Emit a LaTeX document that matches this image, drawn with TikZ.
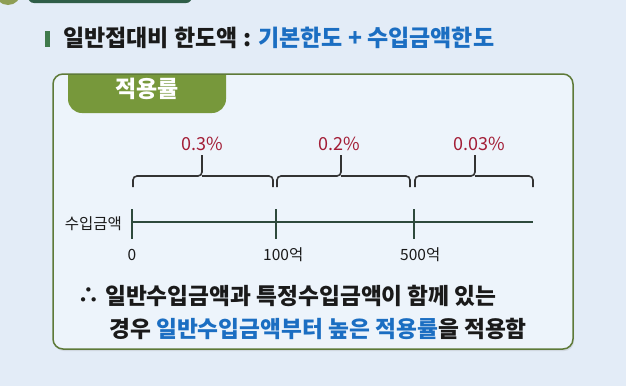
\documentclass[tikz,border=0pt]{standalone}
\usepackage{fontspec}
\setmainfont{Noto Sans CJK KR}
\usetikzlibrary{shadows}
\definecolor{bgcol}{HTML}{E3ECF7}
\definecolor{boxfill}{HTML}{EDF4FB}
\definecolor{boxline}{HTML}{5E7A38}
\definecolor{tabgreen}{HTML}{77983B}
\definecolor{barcol}{HTML}{3F7A4C}
\definecolor{topbar}{HTML}{2F5E48}
\definecolor{topdot}{HTML}{8E9E55}
\definecolor{bluetext}{HTML}{1B6EC2}
\definecolor{redtext}{HTML}{A31D36}
\definecolor{axiscol}{HTML}{2E4A3C}
\definecolor{bracecol}{HTML}{333333}
\definecolor{inktext}{HTML}{1A1A1A}
\tikzset{
  titletext/.style={inner sep=0pt, anchor=west, text=inktext, font=\fontsize{23}{27}\selectfont\bfseries},
  bodytext/.style={inner sep=0pt, anchor=west, text=inktext, font=\fontsize{22.7}{27}\selectfont\bfseries},
  pctlabel/.style={inner sep=0pt, text=redtext, font=\fontsize{18}{21}\selectfont},
  ticklabel/.style={inner sep=0pt, text=inktext, font=\fontsize{15.5}{18}\selectfont},
  axisline/.style={draw=axiscol, line width=2pt},
  braceline/.style={draw=bracecol, line width=1.6pt, rounded corners=4pt},
}
\begin{document}
\begin{tikzpicture}[x=1pt,y=-1pt]
\useasboundingbox (0,0) rectangle (626,386);
\fill[bgcol] (0,0) rectangle (626,386);
% partial top decorations
\fill[topdot] (8,-8) circle (13);
\fill[topbar, rounded corners=6pt] (28,-12) rectangle (192,3);
% title
\fill[barcol] (45,31) rectangle (50,47);
\node[titletext] (title) at (63,38) {일반접대비 한도액 : \textcolor{bluetext}{기본한도 + 수입금액한도}};
% box
\path[fill=boxfill, drop shadow={opacity=0.18, shadow xshift=1pt, shadow yshift=-2pt}, rounded corners=10pt] (53,74) rectangle (573,349);
\begin{scope}
  \clip[rounded corners=10pt] (53,74) rectangle (573,349);
  \fill[tabgreen, rounded corners=14pt] (68,50) -- (68,113) -- (226,113) -- (226,50) -- cycle;
\end{scope}
\draw[boxline, line width=1.5pt, rounded corners=10pt] (53,74) rectangle (573,349);
\node[inner sep=0pt, text=white, font=\fontsize{23}{27}\selectfont\bfseries] (tab) at (147,89) {적용률};
% axis
\coordinate (t0) at (132,222);
\coordinate (t1) at (276,222);
\coordinate (t2) at (414,222);
\coordinate (tend) at (533,222);
\draw[axisline] (t0) -- (tend);
\foreach \t in {t0,t1,t2} \draw[axisline] ([yshift=13pt]\t) -- ([yshift=-17pt]\t);
\node[ticklabel, anchor=east] (axlab) at (122,224) {수입금액};
\node[ticklabel] (l0) at (132,255) {0};
\node[ticklabel, anchor=west] (l1) at (263,255) {100억};
\node[ticklabel, anchor=west] (l2) at (400,255) {500억};
% braces
\draw[braceline] (133,187) -- (133,176) -- (202,176) -- (202,155);
\draw[braceline] (273,187) -- (273,176) -- (202,176);
\draw[braceline] (277,187) -- (277,176) -- (341,176) -- (341,155);
\draw[braceline] (410,187) -- (410,176) -- (341,176);
\draw[braceline] (415,187) -- (415,176) -- (475,176) -- (475,155);
\draw[braceline] (533,187) -- (533,176) -- (475,176);
\node[pctlabel] (p1) at (202,144) {0.3\%};
\node[pctlabel] (p2) at (339,144) {0.2\%};
\node[pctlabel] (p3) at (479,144) {0.03\%};
% bottom text
\node[bodytext] (dots) at (77,296) {∴};
\node[bodytext] (line1) at (105,296) {일반수입금액과 특정수입금액이 함께 있는};
\node[bodytext] (line2) at (109,329) {경우 \textcolor{bluetext}{일반수입금액부터 높은 적용률}을 적용함};
\end{tikzpicture}
\end{document}
